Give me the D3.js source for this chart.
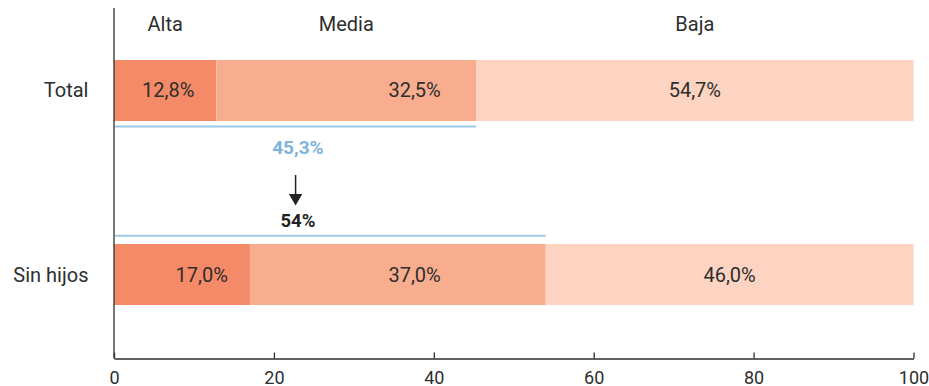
<!DOCTYPE html>
<html>
<head>
<meta charset="utf-8">
<script src="https://cdn.jsdelivr.net/npm/d3@7"></script>
<style>
  html, body { margin: 0; padding: 0; background: #fff; }
  svg { display: block; font-family: Roboto, "Open Sans", sans-serif; }
</style>
</head>
<body>
<svg id="chart" width="929" height="386"></svg>
<script>
// Grupos y niveles
const categories = ["Total", "Sin hijos"];
const levels = ["Alta", "Media", "Baja"];
const alta  = [12.8, 17.0];
const media = [32.5, 37.0];
const baja  = [54.7, 46.0];
// Suma Alta + Media por grupo
const altaMedia = [45.3, 54];
const altaMediaLabels = ["45,3%", "54%"];
const xTicks = [0, 20, 40, 60, 80, 100];

const colors = { Alta: "#f48a67", Media: "#f8ad8e", Baja: "#fdd3c1" };
const textColor = "#2e2e2e";
const blue = "#9ecae8";
const blueText = "#7db4de";

const svg = d3.select("#chart");

const x = d3.scaleLinear().domain([0, 100]).range([114, 913.5]);
const y = d3.scaleBand().domain(categories).range([60, 305]).paddingInner(0.6685).paddingOuter(0);
const axisY = 358.5;

// Stacked series
const rows = categories.map((c, i) => ({ cat: c, Alta: alta[i], Media: media[i], Baja: baja[i] }));
const stack = d3.stack().keys(levels)(rows);

const fmt = v => d3.format(".1f")(v).replace(".", ",") + "%";

const g = svg.append("g");
stack.forEach(layer => {
  g.selectAll(null).data(layer).join("rect")
    .attr("x", d => x(d[0]))
    .attr("y", d => y(d.data.cat))
    .attr("width", d => x(d[1]) - x(d[0]))
    .attr("height", y.bandwidth())
    .attr("fill", colors[layer.key]);
});

// Value labels inside the segments
stack.forEach(layer => {
  g.selectAll(null).data(layer).join("text")
    .attr("x", d => {
      if (layer.key === "Alta") return x(d[1]) - 22;
      if (layer.key === "Media") return x(37.6);
      return (x(d[0]) + x(d[1])) / 2;
    })
    .attr("y", d => y(d.data.cat) + y.bandwidth() / 2)
    .attr("dy", "0.35em")
    .attr("text-anchor", layer.key === "Alta" ? "end" : "middle")
    .attr("font-size", 20)
    .attr("fill", textColor)
    .text(d => fmt(d[1] - d[0]));
});

// Level names above the first bar
svg.selectAll(null).data(stack).join("text")
  .attr("x", layer => (x(layer[0][0]) + x(layer[0][1])) / 2)
  .attr("y", 31)
  .attr("text-anchor", "middle")
  .attr("font-size", 20)
  .attr("fill", textColor)
  .text(layer => layer.key);

// Category labels
svg.selectAll(null).data(categories).join("text")
  .attr("x", 88.5)
  .attr("y", d => y(d) + y.bandwidth() / 2)
  .attr("dy", "0.35em")
  .attr("text-anchor", "end")
  .attr("font-size", 20)
  .attr("fill", textColor)
  .text(d => d);

// Alta + Media brackets
const lineYs = [y(categories[0]) + y.bandwidth() + 5.5, y(categories[1]) - 8.3];
svg.selectAll(null).data(altaMedia).join("line")
  .attr("x1", x(0) + 1)
  .attr("x2", d => x(d))
  .attr("y1", (d, i) => lineYs[i])
  .attr("y2", (d, i) => lineYs[i])
  .attr("stroke", blue)
  .attr("stroke-width", 2);

const annX = x(23);
svg.append("text")
  .attr("x", annX).attr("y", 154)
  .attr("text-anchor", "middle")
  .attr("font-size", 19).attr("font-weight", 700)
  .attr("fill", blueText)
  .text(altaMediaLabels[0]);

svg.append("text")
  .attr("x", annX).attr("y", 226.7)
  .attr("text-anchor", "middle")
  .attr("font-size", 18.5).attr("font-weight", 700)
  .attr("fill", "#222")
  .text(altaMediaLabels[1]);

// Arrow between the two totals
const ax = annX - 2.3;
svg.append("line")
  .attr("x1", ax).attr("x2", ax)
  .attr("y1", 175).attr("y2", 196)
  .attr("stroke", "#222").attr("stroke-width", 1.5);
svg.append("path")
  .attr("d", `M${ax - 6.7},194 L${ax + 6.7},194 L${ax},205.5 Z`)
  .attr("fill", "#222");

// Axes
svg.append("line")
  .attr("x1", x(0)).attr("x2", x(0))
  .attr("y1", 8).attr("y2", axisY)
  .attr("stroke", textColor).attr("stroke-width", 1.3);

const xAxis = svg.append("g")
  .attr("transform", `translate(0,${axisY})`)
  .call(d3.axisBottom(x).tickValues(xTicks).tickSizeInner(-6).tickSizeOuter(0).tickPadding(0));
xAxis.select(".domain").attr("stroke", textColor).attr("stroke-width", 1.3);
xAxis.selectAll(".tick line").attr("stroke", textColor).attr("stroke-width", 1.3);
xAxis.selectAll(".tick text")
  .attr("y", 25.5).attr("dy", 0)
  .attr("font-size", 18)
  .attr("font-family", "Roboto, 'Open Sans', sans-serif")
  .attr("fill", textColor);
</script>
</body>
</html>
